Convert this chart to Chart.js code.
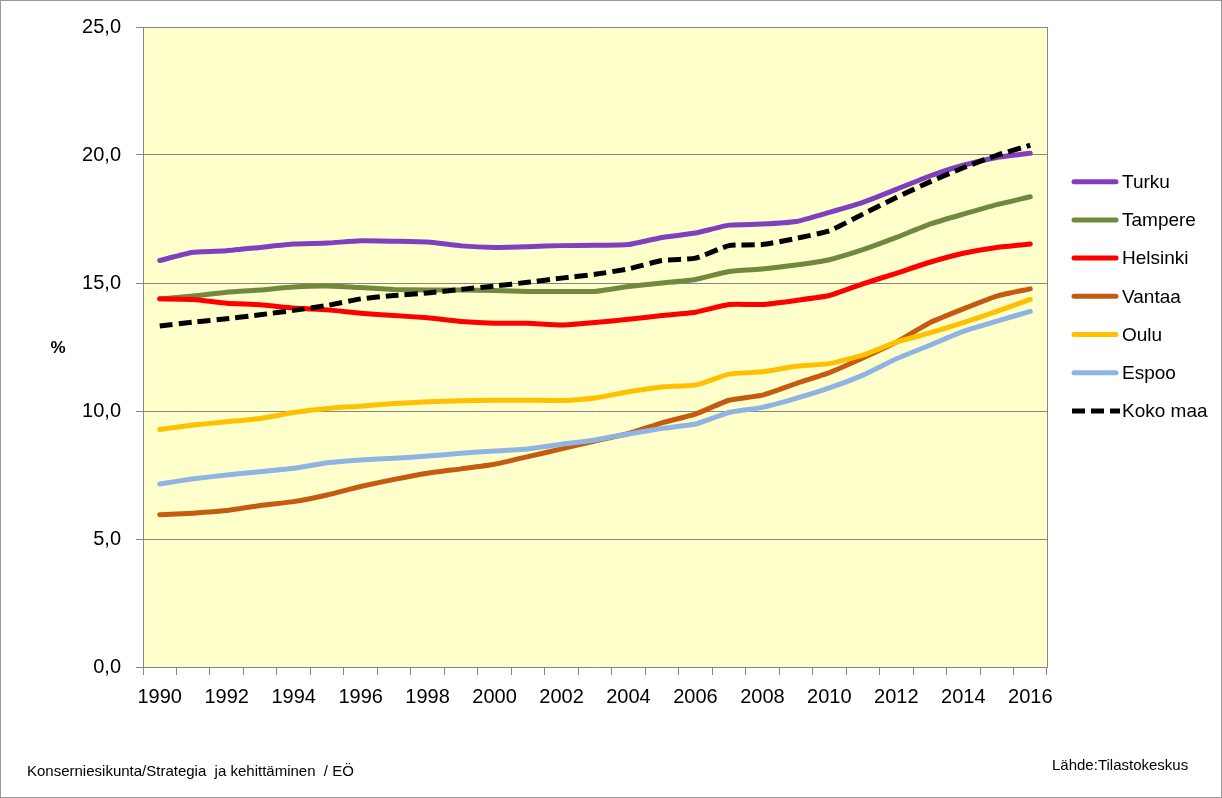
<!DOCTYPE html>
<html>
<head>
<meta charset="utf-8">
<script src="https://cdn.jsdelivr.net/npm/chart.js@4/dist/chart.umd.min.js"></script>
<style>
html,body{margin:0;padding:0;background:#fff;}
canvas{display:block;}
</style>
</head>
<body>
<canvas id="c" width="1222" height="798"></canvas>
<script>
const years = ['1990','1991','1992','1993','1994','1995','1996','1997','1998','1999','2000','2001','2002','2003','2004','2005','2006','2007','2008','2009','2010','2011','2012','2013','2014','2015','2016'];
const seriesNames = ['Turku','Tampere','Helsinki','Vantaa','Oulu','Espoo','Koko maa'];
const turku    = [15.88,16.2,16.26,16.39,16.52,16.56,16.65,16.63,16.6,16.45,16.39,16.42,16.46,16.47,16.5,16.78,16.95,17.26,17.3,17.4,17.76,18.15,18.66,19.18,19.6,19.9,20.07];
const tampere  = [14.38,14.49,14.64,14.73,14.84,14.88,14.82,14.75,14.73,14.73,14.71,14.67,14.67,14.67,14.86,15.0,15.14,15.45,15.55,15.7,15.91,16.3,16.78,17.3,17.69,18.06,18.37];
const helsinki = [14.38,14.36,14.21,14.15,14.02,13.95,13.82,13.73,13.64,13.5,13.43,13.43,13.36,13.46,13.58,13.73,13.86,14.16,14.16,14.32,14.51,14.97,15.38,15.81,16.16,16.39,16.52];
const vantaa   = [5.95,6.01,6.11,6.31,6.46,6.72,7.05,7.33,7.57,7.74,7.92,8.22,8.52,8.83,9.12,9.54,9.88,10.42,10.62,11.07,11.5,12.07,12.69,13.45,13.99,14.49,14.77];
const oulu     = [9.28,9.45,9.58,9.71,9.94,10.1,10.19,10.29,10.36,10.4,10.42,10.42,10.41,10.51,10.75,10.94,11.01,11.44,11.53,11.75,11.85,12.18,12.69,13.05,13.45,13.89,14.36];
const espoo    = [7.15,7.35,7.5,7.63,7.76,7.98,8.09,8.15,8.24,8.35,8.44,8.52,8.7,8.87,9.1,9.32,9.49,9.94,10.14,10.49,10.9,11.4,12.04,12.57,13.11,13.51,13.89];
const kokoMaa  = [13.32,13.47,13.6,13.76,13.93,14.12,14.38,14.51,14.61,14.75,14.88,15.03,15.19,15.34,15.55,15.88,15.97,16.46,16.5,16.74,17.04,17.69,18.34,18.95,19.5,19.99,20.38];
const yTicks = ['0,0','5,0','10,0','15,0','20,0','25,0'];

const colors = ['#7F3FBF','#71893F','#FF0000','#C55A11','#FFC000','#8EB4E3','#000000'];
const allData = [turku,tampere,helsinki,vantaa,oulu,espoo,kokoMaa];
const FONT = "'Liberation Sans', Arial, sans-serif";

const datasets = allData.map((d,i)=>({
  label: seriesNames[i],
  data: d,
  borderColor: colors[i],
  backgroundColor: colors[i],
  borderWidth: 5,
  pointRadius: 0,
  tension: 0.15,
  fill: false,
  order: 7 - i,
  borderDash: i === 6 ? [13,6] : [],
  borderCapStyle: i === 6 ? 'butt' : 'round',
  borderJoinStyle: 'round'
}));

const decor = {
  id: 'decor',
  beforeDraw(chart){
    const ctx = chart.ctx, a = chart.chartArea;
    ctx.save();
    ctx.fillStyle = '#ffffff';
    ctx.fillRect(0,0,chart.width,chart.height);
    ctx.fillStyle = '#FFFFCC';
    ctx.fillRect(a.left,a.top,a.right-a.left,a.bottom-a.top);
    ctx.restore();
  },
  beforeDatasetsDraw(chart){
    const ctx = chart.ctx, a = chart.chartArea;
    ctx.save();
    ctx.strokeStyle = '#868686';
    ctx.lineWidth = 1;
    ctx.beginPath();
    ctx.moveTo(Math.round(a.right)+0.5, a.top);
    ctx.lineTo(Math.round(a.right)+0.5, a.bottom);
    ctx.stroke();
    ctx.restore();
  },
  afterDraw(chart){
    const ctx = chart.ctx;
    ctx.save();
    ctx.textBaseline = 'middle';
    ctx.textAlign = 'left';
    ctx.font = '19px ' + FONT;
    seriesNames.forEach((n,i)=>{
      const y = 181.7 + 38.2*i;
      ctx.strokeStyle = colors[i];
      ctx.lineWidth = 5;
      if (i === 6) { ctx.setLineDash([13,6]); ctx.lineCap = 'butt'; }
      else { ctx.setLineDash([]); ctx.lineCap = 'round'; }
      ctx.beginPath();
      ctx.moveTo(i===6?1072:1074, y);
      ctx.lineTo(i===6?1120:1116, y);
      ctx.stroke();
      ctx.fillStyle = '#000';
      ctx.fillText(n, 1122, y+1);
    });
    ctx.setLineDash([]);
    ctx.font = 'bold 17px ' + FONT;
    ctx.textAlign = 'center';
    ctx.fillText('%', 58, 348);
    ctx.font = '15px ' + FONT;
    ctx.textAlign = 'left';
    ctx.fillText('Konserniesikunta/Strategia  ja kehittäminen  / EÖ', 27, 772);
    ctx.fillText('Lähde:Tilastokeskus', 1052, 766);
    ctx.strokeStyle = '#999999';
    ctx.lineWidth = 1;
    ctx.strokeRect(0.5,0.5,chart.width-1,chart.height-1);
    ctx.restore();
  }
};

new Chart(document.getElementById('c'), {
  type: 'line',
  data: { labels: years, datasets },
  options: {
    responsive: false,
    animation: false,
    events: [],
    layout: { padding: { left: 0, top: 24, right: 175, bottom: 0 } },
    plugins: { legend: { display: false }, tooltip: { enabled: false } },
    scales: {
      x: {
        type: 'category',
        offset: true,
        grid: { offset: true, drawOnChartArea: false, drawTicks: true, tickLength: 8, color: '#868686' },
        border: { color: '#868686' },
        ticks: {
          autoSkip: false, maxRotation: 0, minRotation: 0,
          color: '#000', padding: 10,
          font: { size: 20, family: FONT },
          callback: (v,i) => (i % 2 === 0 ? years[i] : '')
        },
        afterFit: s => { s.height = 131; }
      },
      y: {
        min: 0, max: 25,
        grid: { color: '#868686', tickLength: 7 },
        border: { color: '#868686' },
        ticks: {
          stepSize: 5, color: '#000', padding: 15,
          font: { size: 20, family: FONT },
          callback: (v) => yTicks[Math.round(v/5)]
        },
        afterFit: s => { s.width = 143; }
      }
    }
  },
  plugins: [decor]
});
</script>
</body>
</html>
